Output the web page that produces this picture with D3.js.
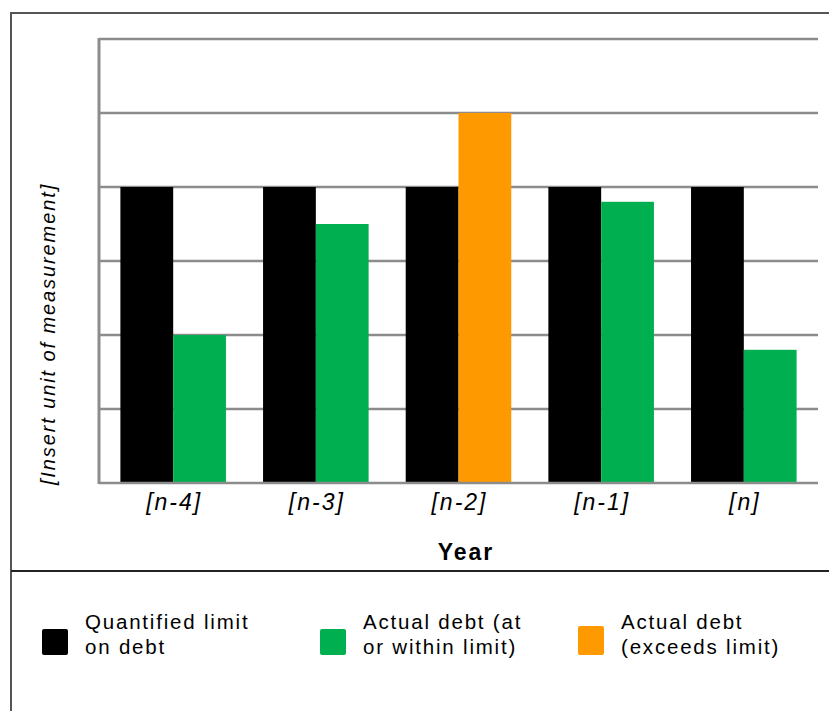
<!DOCTYPE html>
<html>
<head>
<meta charset="utf-8">
<script src="https://cdn.jsdelivr.net/npm/d3@7"></script>
<style>
  html, body { margin: 0; padding: 0; background: #fff; }
  svg { display: block; font-family: "Liberation Sans", Arial, sans-serif; }
</style>
</head>
<body>
<svg id="chart" width="829" height="711"></svg>
<script>
// Debt limit vs actual debt by year
const years = ["[n-4]", "[n-3]", "[n-2]", "[n-1]", "[n]"];
const limitValues = [4, 4, 4, 4, 4];
const actualValues = [2, 3.5, 5, 3.8, 1.8];
const yTicks = [0, 1, 2, 3, 4, 5, 6];
const legendLabels = [
  ["Quantified limit", "on debt"],
  ["Actual debt (at", "or within limit)"],
  ["Actual debt", "(exceeds limit)"]
];
const colors = { limit: "#000000", within: "#00b050", exceeds: "#ff9900" };

const svg = d3.select("#chart");

// Outer frame and legend divider
svg.append("path")
  .attr("d", "M11,711 L11,13 L840,13")
  .attr("fill", "none").attr("stroke", "#555").attr("stroke-width", 2);
svg.append("line")
  .attr("x1", 11).attr("x2", 829).attr("y1", 571).attr("y2", 571)
  .attr("stroke", "#222").attr("stroke-width", 2);

const plot = { left: 99, right: 818, top: 39, bottom: 483 };

const x = d3.scaleBand().domain(years)
  .range([plot.left, plot.right])
  .paddingInner(0.26).paddingOuter(0.15);
const y = d3.scaleLinear().domain([0, 6]).range([plot.bottom, plot.top]);

// Gridlines
svg.append("g").selectAll("line").data(yTicks.filter(d => d > 0)).join("line")
  .attr("x1", plot.left).attr("x2", plot.right)
  .attr("y1", d => y(d)).attr("y2", d => y(d))
  .attr("stroke", "#8c8c8c").attr("stroke-width", 2.5);

// Bars
const half = x.bandwidth() / 2;
const groups = svg.append("g").selectAll("g").data(years).join("g")
  .attr("transform", d => `translate(${x(d)},0)`);
groups.append("rect")
  .attr("x", 0).attr("width", half)
  .attr("y", (d, i) => y(limitValues[i]))
  .attr("height", (d, i) => y(0) - y(limitValues[i]))
  .attr("fill", colors.limit);
groups.append("rect")
  .attr("x", half).attr("width", half)
  .attr("y", (d, i) => y(actualValues[i]))
  .attr("height", (d, i) => y(0) - y(actualValues[i]))
  .attr("fill", (d, i) => actualValues[i] > limitValues[i] ? colors.exceeds : colors.within);

// Axes lines
svg.append("line")
  .attr("x1", plot.left).attr("x2", plot.left)
  .attr("y1", plot.top - 1).attr("y2", plot.bottom + 1)
  .attr("stroke", "#8c8c8c").attr("stroke-width", 3);
svg.append("line")
  .attr("x1", plot.left).attr("x2", plot.right)
  .attr("y1", plot.bottom).attr("y2", plot.bottom)
  .attr("stroke", "#8c8c8c").attr("stroke-width", 2.5);

// Category labels
const xAxis = d3.axisBottom(x).tickSize(0).tickPadding(0);
const gx = svg.append("g").attr("transform", `translate(0,${plot.bottom})`).call(xAxis);
gx.select(".domain").remove();
gx.selectAll("text")
  .attr("y", 27).attr("dy", 0)
  .attr("dx", 1)
  .attr("font-size", 23).attr("font-style", "italic")
  .attr("letter-spacing", 2)
  .attr("font-family", "Liberation Sans, Arial, sans-serif")
  .attr("fill", "#000");

// Axis titles
svg.append("text")
  .attr("x", 466).attr("y", 560)
  .attr("text-anchor", "middle").attr("font-size", 23).attr("font-weight", "bold")
  .attr("letter-spacing", 2)
  .text("Year");
svg.append("text")
  .attr("transform", "translate(55,334) rotate(-90)")
  .attr("text-anchor", "middle").attr("font-size", 20).attr("font-style", "italic")
  .attr("letter-spacing", 1.9)
  .text("[Insert unit of measurement]");

// Legend
const legendItems = [
  { color: colors.limit, x: 42, lines: legendLabels[0], sqY: 629 },
  { color: colors.within, x: 320, lines: legendLabels[1], sqY: 629 },
  { color: colors.exceeds, x: 578, lines: legendLabels[2], sqY: 626 }
];
const lg = svg.append("g").selectAll("g").data(legendItems).join("g");
lg.append("rect")
  .attr("x", d => d.x).attr("y", d => d.sqY)
  .attr("width", 26).attr("height", d => 655 - d.sqY)
  .attr("rx", 2).attr("fill", d => d.color);
lg.each(function(d) {
  const t = d3.select(this).append("text")
    .attr("font-size", 20.5).attr("letter-spacing", 1.8).attr("fill", "#000");
  d.lines.forEach((s, i) => {
    t.append("tspan").attr("x", d.x + 43).attr("y", 629 + i * 25).text(s);
  });
});
</script>
</body>
</html>
